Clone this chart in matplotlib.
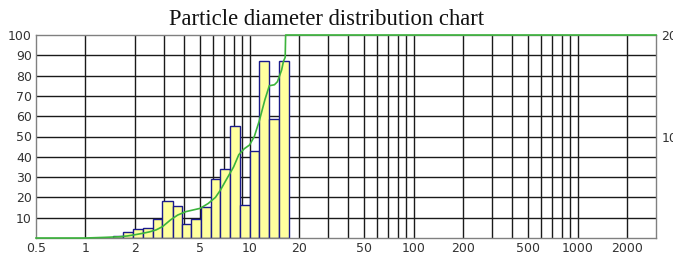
import matplotlib
matplotlib.use("Agg")
import matplotlib.pyplot as plt
from matplotlib.ticker import FixedLocator, NullLocator, FixedFormatter

# Bin edges (particle diameter, um)
bin_edges = [1.48, 1.70, 1.95, 2.25, 2.58, 2.95, 3.40, 3.87, 4.40, 5.05,
             5.80, 6.65, 7.65, 8.70, 10.0, 11.5, 13.2, 15.2, 17.5]
bar_values = [1.0, 2.8, 4.3, 5.0, 9.4, 18.0, 16.0, 7.0, 9.3, 15.5,
              29.0, 34.0, 55.0, 16.5, 43.0, 87.0, 58.5, 87.0]

# Cumulative curve (%)
cum_x = [0.5, 1.0, 1.3, 1.6, 1.8, 2.0, 2.2, 2.45, 2.7, 2.95, 3.3, 3.65, 4.1,
         5.0, 5.6, 6.2, 6.65, 7.3, 8.0, 8.6, 9.3, 10.0, 10.7, 11.5, 12.4,
         13.2, 14.2, 14.8, 15.7, 16.1, 16.5, 16.6, 17.0, 3000]
cum_y = [0, 0, 0.3, 0.6, 1.0, 1.6, 2.2, 3.0, 4.0, 5.6, 8.9, 11.3, 13.0,
         14.6, 17.0, 20.0, 23.6, 29.4, 35.0, 41.0, 44.0, 45.8, 50.0, 58.0,
         68.0, 75.0, 75.5, 77.0, 82.8, 87.0, 89.0, 100, 100, 100]

x_grid = [1, 2, 3, 4, 5, 6, 7, 8, 9, 10, 20, 30, 40, 50, 60, 70, 80, 90,
          100, 200, 300, 400, 500, 600, 700, 800, 900, 1000, 2000]
x_ticks = [0.5, 1, 2, 5, 10, 20, 50, 100, 200, 500, 1000, 2000]
x_tick_labels = ["0.5", "1", "2", "5", "10", "20", "50", "100", "200", "500", "1000", "2000"]
y_ticks = [10, 20, 30, 40, 50, 60, 70, 80, 90, 100]
y2_ticks = [10, 20]

fig = plt.figure(figsize=(6.73, 2.60), dpi=100)
fig.patch.set_facecolor("white")
ax = fig.add_axes([36/673, 1 - 238/260, (656 - 36)/673, (238 - 35)/260])
ax.set_xscale("log")
ax.set_xlim(0.5, 3000)
ax.set_ylim(0, 100)

# grid
for gx in x_grid:
    ax.axvline(gx, color="#1a1a1a", lw=1.0, zorder=1)
for gy in range(10, 100, 10):
    ax.axhline(gy, color="#1a1a1a", lw=1.0, zorder=1)

widths = [bin_edges[i + 1] - bin_edges[i] for i in range(len(bar_values))]
ax.bar(bin_edges[:-1], bar_values, width=widths, align="edge",
       color="#FFFF9E", edgecolor="#1a1a8c", linewidth=1.0, zorder=2)

ax.plot(cum_x, cum_y, color="#3cb43c", lw=1.2, zorder=4, clip_on=False)

ax.xaxis.set_major_locator(FixedLocator(x_ticks))
ax.xaxis.set_major_formatter(FixedFormatter(x_tick_labels))
ax.xaxis.set_minor_locator(NullLocator())
ax.set_yticks(y_ticks)
ax.tick_params(axis="both", length=0, labelsize=9, colors="#333333", pad=3)
for s in ax.spines.values():
    s.set_color("#808080")
    s.set_linewidth(1.0)

ax2 = ax.twinx()
ax2.set_ylim(0, 20)
ax2.set_yticks(y2_ticks)
ax2.tick_params(axis="y", length=0, labelsize=9, colors="#333333", pad=4)
for s in ax2.spines.values():
    s.set_visible(False)

fig.text(0.485, 0.925, "Particle diameter distribution chart", ha="center",
         va="center", fontsize=16.3, family="Liberation Serif", color="#111111")

fig.savefig("out.png", dpi=100)
